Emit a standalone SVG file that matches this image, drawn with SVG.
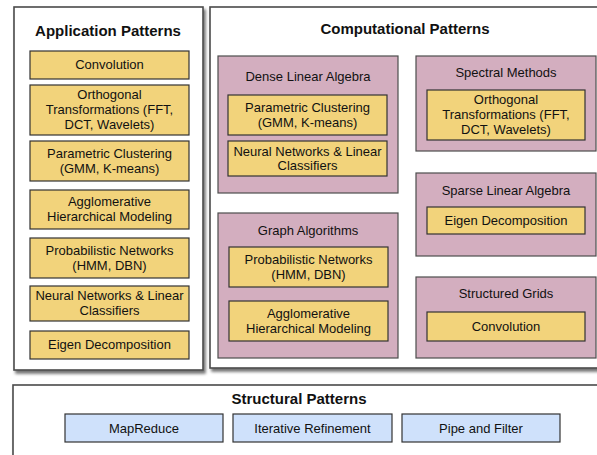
<svg xmlns="http://www.w3.org/2000/svg" width="597" height="455" viewBox="0 0 597 455">
<defs>
<filter id="sh" x="-10%" y="-10%" width="130%" height="130%">
<feDropShadow dx="2" dy="3" stdDeviation="1.8" flood-color="#000" flood-opacity="0.55"/>
</filter>
<style>
.panel{fill:#fff;stroke:#4a4a4a;stroke-width:1.6;filter:url(#sh)}
.y{fill:#F2D37B;stroke:#333;stroke-width:1.2}
.p{fill:#D3AEBF;stroke:#4d4d4d;stroke-width:1.2}
.b{fill:#CFE1FB;stroke:#333;stroke-width:1.2}
text{font-family:"Liberation Sans",Arial,sans-serif;font-size:13px;fill:#111;text-anchor:middle}
.t{font-weight:bold;font-size:15px}
</style>
</defs>
<g id="application-patterns">
<rect class="panel" x="14" y="7" width="189" height="363"/>
<text class="t" x="108" y="36">Application Patterns</text>
<g id="app-convolution"><rect class="y" x="30" y="51" width="159" height="28"/><text x="109.5" y="69">Convolution</text></g>
<g id="app-orthogonal"><rect class="y" x="30" y="85" width="159" height="50"/><text x="109.5" y="98.5">Orthogonal</text><text x="109.5" y="113.5">Transformations (FFT,</text><text x="109.5" y="128.5">DCT, Wavelets)</text></g>
<g id="app-parametric"><rect class="y" x="30" y="141" width="159" height="40"/><text x="109.5" y="157.5">Parametric Clustering</text><text x="109.5" y="172.5">(GMM, K-means)</text></g>
<g id="app-agglomerative"><rect class="y" x="30" y="190" width="159" height="39"/><text x="109.5" y="206">Agglomerative</text><text x="109.5" y="221">Hierarchical Modeling</text></g>
<g id="app-probabilistic"><rect class="y" x="30" y="238" width="159" height="40"/><text x="109.5" y="254.5">Probabilistic Networks</text><text x="109.5" y="269.5">(HMM, DBN)</text></g>
<g id="app-neural"><rect class="y" x="30" y="286" width="159" height="35"/><text x="109.5" y="300">Neural Networks &amp; Linear</text><text x="109.5" y="314.5">Classifiers</text></g>
<g id="app-eigen"><rect class="y" x="30" y="331" width="159" height="28"/><text x="109.5" y="349">Eigen Decomposition</text></g>
</g>
<g id="computational-patterns">
<rect class="panel" x="210" y="7" width="400" height="361"/>
<text class="t" x="405" y="34">Computational Patterns</text>
<g id="dense-linear-algebra">
<rect class="p" x="218" y="56" width="180" height="137"/>
<text x="308" y="80.5">Dense Linear Algebra</text>
<g id="dla-parametric"><rect class="y" x="228" y="95" width="159" height="40"/><text x="307.5" y="112">Parametric Clustering</text><text x="307.5" y="127">(GMM, K-means)</text></g>
<g id="dla-neural"><rect class="y" x="228" y="141" width="159" height="35"/><text x="307.5" y="155.5">Neural Networks &amp; Linear</text><text x="307.5" y="170">Classifiers</text></g>
</g>
<g id="graph-algorithms">
<rect class="p" x="218" y="213" width="180" height="145"/>
<text x="308" y="234.5">Graph Algorithms</text>
<g id="ga-probabilistic"><rect class="y" x="229" y="247" width="159" height="40"/><text x="308.5" y="263.5">Probabilistic Networks</text><text x="308.5" y="278.5">(HMM, DBN)</text></g>
<g id="ga-agglomerative"><rect class="y" x="229" y="301" width="159" height="40"/><text x="308.5" y="317.5">Agglomerative</text><text x="308.5" y="332.5">Hierarchical Modeling</text></g>
</g>
<g id="spectral-methods">
<rect class="p" x="416" y="56" width="180" height="95"/>
<text x="506" y="76.5">Spectral Methods</text>
<g id="sm-orthogonal"><rect class="y" x="427" y="90" width="158" height="50"/><text x="506" y="104">Orthogonal</text><text x="506" y="119">Transformations (FFT,</text><text x="506" y="134">DCT, Wavelets)</text></g>
</g>
<g id="sparse-linear-algebra">
<rect class="p" x="416" y="173" width="180" height="83"/>
<text x="506" y="194.5">Sparse Linear Algebra</text>
<g id="sla-eigen"><rect class="y" x="427" y="207" width="158" height="27"/><text x="506" y="225">Eigen Decomposition</text></g>
</g>
<g id="structured-grids">
<rect class="p" x="416" y="277" width="180" height="81"/>
<text x="506" y="297.5">Structured Grids</text>
<g id="sg-convolution"><rect class="y" x="427" y="312" width="158" height="29"/><text x="506" y="331">Convolution</text></g>
</g>
</g>
<g id="structural-patterns">
<rect class="panel" x="13" y="385" width="600" height="80"/>
<text class="t" x="299" y="403.5">Structural Patterns</text>
<g id="sp-mapreduce"><rect class="b" x="65" y="414" width="158" height="28"/><text x="144" y="432.5">MapReduce</text></g>
<g id="sp-iterative"><rect class="b" x="233" y="414" width="159" height="28"/><text x="312.5" y="432.5">Iterative Refinement</text></g>
<g id="sp-pipe"><rect class="b" x="402" y="414" width="158" height="28"/><text x="481" y="432.5">Pipe and Filter</text></g>
</g>
<g id="connectors"></g>
</svg>
